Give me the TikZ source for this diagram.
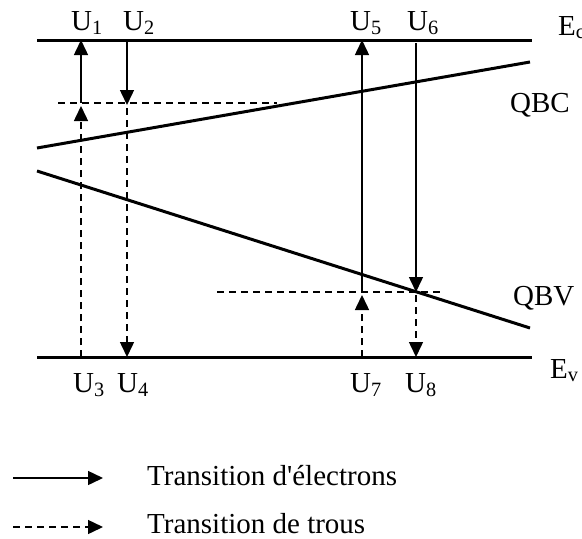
\documentclass[tikz,border=0pt]{standalone}
\usepackage{fontspec}
\setmainfont{Liberation Serif}[Ligatures=TeXOff]
\usetikzlibrary{arrows.meta}
\begin{document}
\begin{tikzpicture}[x=1pt,y=-1pt,
  band/.style={line width=3pt},
  trans/.style={line width=1.5pt,-{Triangle[length=15pt,width=14pt]}},
  holetrans/.style={trans,dash pattern=on 7pt off 5pt},
  guide/.style={line width=1.5pt,dash pattern=on 7pt off 5pt},
  lbl/.style={anchor=base west,inner sep=0pt,font=\fontsize{29}{34}\selectfont}]
\useasboundingbox (0,0) rectangle (582,539);
% bands
\coordinate (ecL) at (37,40); \coordinate (ecR) at (532,40);
\coordinate (evL) at (37,357); \coordinate (evR) at (532,357);
\coordinate (qbcL) at (37,148); \coordinate (qbcR) at (530,62);
\coordinate (qbvL) at (37,171); \coordinate (qbvR) at (530,328);
\draw[band] (ecL) -- (ecR);
\draw[band] (evL) -- (evR);
\draw[band] (qbcL) -- (qbcR);
\draw[band] (qbvL) -- (qbvR);
% horizontal guides
\coordinate (g1a) at (58,103); \coordinate (g1b) at (277,103);
\coordinate (g2a) at (217,292); \coordinate (g2b) at (443,292);
\draw[guide] (g1a) -- (g1b);
\draw[guide] (g2a) -- (g2b);
% U1 / U3
\coordinate (u1b) at (81,103); \coordinate (u1t) at (81,40);
\coordinate (u3b) at (81,357); \coordinate (u3t) at (81,106);
\draw[trans] (u1b) -- (u1t);
\draw[holetrans] (u3b) -- (u3t);
% U2 / U4
\coordinate (u2t) at (127,40); \coordinate (u2b) at (127,105);
\coordinate (u4t) at (127,108); \coordinate (u4b) at (127,357);
\draw[trans] (u2t) -- (u2b);
\draw[holetrans] (u4t) -- (u4b);
% U5 / U7
\coordinate (u5b) at (362,292); \coordinate (u5t) at (362,40);
\coordinate (u7b) at (362,357); \coordinate (u7t) at (362,295);
\draw[trans] (u5b) -- (u5t);
\draw[holetrans] (u7b) -- (u7t);
% U6 / U8
\coordinate (u6t) at (416,43); \coordinate (u6b) at (416,292);
\coordinate (u8t) at (416,295); \coordinate (u8b) at (416,357);
\draw[trans] (u6t) -- (u6b);
\draw[holetrans] (u8t) -- (u8b);
% labels
\node[lbl] (lu1) at (71,30) {U\textsubscript{1}};
\node[lbl] (lu2) at (123,30) {U\textsubscript{2}};
\node[lbl] (lu5) at (350,30) {U\textsubscript{5}};
\node[lbl] (lu6) at (407,30) {U\textsubscript{6}};
\node[lbl] (lec) at (558,35) {E\textsubscript{c}};
\node[lbl] (lu3) at (73,392) {U\textsubscript{3}};
\node[lbl] (lu4) at (117,392) {U\textsubscript{4}};
\node[lbl] (lu7) at (350,392) {U\textsubscript{7}};
\node[lbl] (lu8) at (405,392) {U\textsubscript{8}};
\node[lbl] (lev) at (550,378) {E\textsubscript{v}};
\node[lbl] (lqbc) at (510,112) {QBC};
\node[lbl] (lqbv) at (513,305) {QBV};
% legend
\coordinate (la) at (13,478); \coordinate (lb) at (103,478);
\coordinate (lc) at (13,527); \coordinate (ld) at (103,527);
\draw[trans] (la) -- (lb);
\draw[holetrans] (lc) -- (ld);
\node[lbl] (t1) at (147,485) {Transition d'électrons};
\node[lbl] (t2) at (147,533) {Transition de trous};
\end{tikzpicture}
\end{document}
